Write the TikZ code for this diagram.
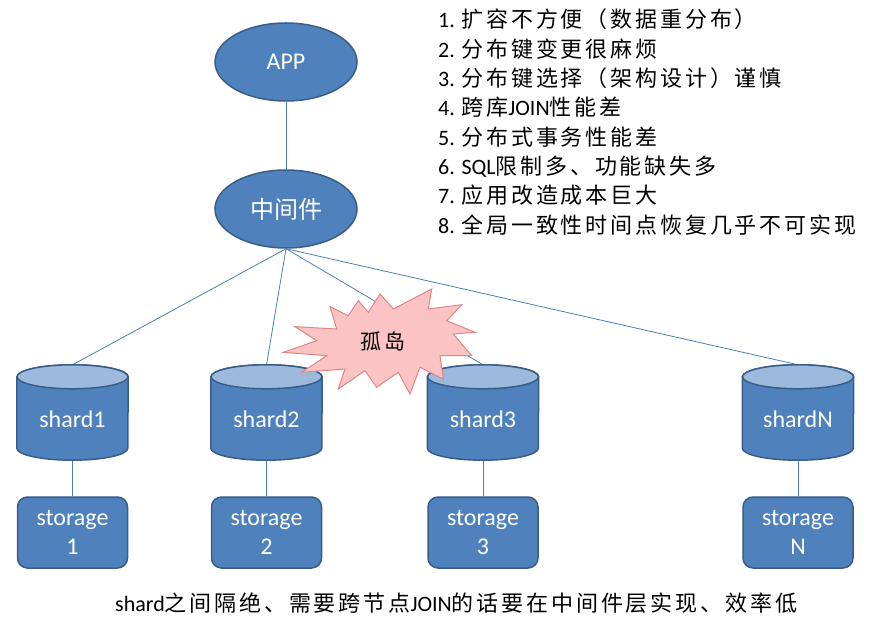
\documentclass[tikz,border=0pt]{standalone}
\usepackage{fontspec}
\setmainfont{Carlito}
\newfontfamily\cjk{Noto Sans CJK SC}
\newfontfamily\cjkls{Noto Sans CJK SC}[LetterSpace=13]
\usetikzlibrary{backgrounds,calc,shapes.geometric}
\definecolor{boxblue}{HTML}{4F81BD}
\definecolor{boxedge}{HTML}{385D8A}
\definecolor{toplight}{HTML}{9DB9DC}
\definecolor{linkblue}{HTML}{4A7EBB}
\definecolor{burstfill}{HTML}{FBC3C3}
\definecolor{burstedge}{HTML}{E08585}
\newcommand\zh[1]{{\cjkls #1}}
\tikzset{
  oval/.style={ellipse, fill=boxblue, draw=boxedge, line width=1.5pt, minimum width=142pt, minimum height=78pt, inner sep=0pt, text=white, font=\fontsize{24}{28}\selectfont},
  cylbox/.style={rectangle, draw=none, minimum width=111pt, minimum height=95pt, inner sep=0pt},
  cylbody/.style={fill=boxblue, draw=boxedge, line width=1.5pt},
  cyltop/.style={fill=toplight, draw=boxedge, line width=1.5pt},
  cyltext/.style={text=white, font=\fontsize{24}{28}\selectfont, inner sep=0pt},
  store/.style={rectangle, rounded corners=10pt, fill=boxblue, draw=boxedge, line width=1.5pt, minimum width=110pt, minimum height=71pt, inner sep=0pt, text=white, align=center, font=\fontsize{24}{29}\selectfont},
  link/.style={draw=linkblue, line width=0.8pt},
  listline/.style={anchor=base west, inner sep=0pt, font=\fontsize{22}{26}\selectfont},
}
\newcommand\mycyl[3]{%
  \node[cylbox] (#1) at (#2,209.5) {};
  \draw[cylbody] ($(#1.north west)+(0,-12)$) -- ($(#1.south west)+(0,12)$)
     arc[start angle=180,end angle=360,x radius=55.5pt,y radius=12pt]
     -- ($(#1.north east)+(0,-12)$)
     arc[start angle=0,end angle=180,x radius=55.5pt,y radius=12pt] -- cycle;
  \draw[cyltop] ($(#1.north)+(0,-12)$) ellipse[x radius=55.5pt,y radius=12pt];
  \node[cyltext] (#1t) at ($(#1)+(0,-6.5)$) {#3};
}
\begin{document}
\begin{tikzpicture}[x=1pt,y=1pt]
\useasboundingbox (0,0) rectangle (876,622);

\node[oval] (app) at (286,560) {APP};
\node[oval] (mid) at (286,413) {{\cjk 中间件}};

\mycyl{s1}{72.5}{shard1}
\mycyl{s2}{266.5}{shard2}
\mycyl{s3}{483}{shard3}
\mycyl{sN}{798}{shardN}

\node[store] (st1) at (72.5,89.5) {storage\\1};
\node[store] (st2) at (266.5,89.5) {storage\\2};
\node[store] (st3) at (483,89.5) {storage\\3};
\node[store] (stN) at (798,89.5) {storage\\N};

\begin{scope}[on background layer]
  \fill[white] (0,0) rectangle (876,622);
  \draw[link] (app.south) -- (mid.north);
  \draw[link] (mid.south) -- (s1.north);
  \draw[link] (mid.south) -- (s2.north);
  \draw[link] (mid.south) -- (s3.north);
  \draw[link] (mid.south) -- (sN.north);
  \draw[link] (s1.south) -- (st1.north);
  \draw[link] (s2.south) -- (st2.north);
  \draw[link] (s3.south) -- (st3.north);
  \draw[link] (sN.south) -- (stN.north);
\end{scope}

% explosion
\draw[fill=burstfill, draw=burstedge, line width=1pt, line join=miter]
  (330,315.3) -- (348.3,306.3) -- (358.3,321.3) -- (368.3,309.7) -- (380,328)
  -- (393.3,313) -- (431.7,333) -- (428.3,313) -- (461.7,317.3) -- (446.7,301.3)
  -- (475,289.7) -- (453.3,288) -- (471.7,266.3) -- (440,266.3) -- (443.3,243)
  -- (420,254.7) -- (410,228) -- (398.3,249.7) -- (376.7,234.7) -- (365,251.3)
  -- (338.3,233) -- (345,253) -- (301.7,249.7) -- (326.7,266.3) -- (283.3,269.7)
  -- (316.7,281.3) -- (295,295.3) -- (336.7,293) -- cycle;
\node[inner sep=0pt, font=\fontsize{21}{26}\selectfont] (iso) at (383,281) {\zh{孤岛}};

% list
\node[listline] (l1) at (438,594) {1. \zh{扩容不方便（数据重分布）}};
\node[listline] (l2) at (438,564.7) {2. \zh{分布键变更很麻烦}};
\node[listline] (l3) at (438,535.4) {3. \zh{分布键选择（架构设计）谨慎}};
\node[listline] (l4) at (438,506.1) {4. \zh{跨库}JOIN\zh{性能差}};
\node[listline] (l5) at (438,476.8) {5. \zh{分布式事务性能差}};
\node[listline] (l6) at (438,447.5) {6. SQL\zh{限制多、功能缺失多}};
\node[listline] (l7) at (438,418.2) {7. \zh{应用改造成本巨大}};
\node[listline] (l8) at (438,388.9) {8. \zh{全局一致性时间点恢复几乎不可实现}};

\node[listline] (cap) at (115,11) {shard\zh{之间隔绝、需要跨节点}JOIN\zh{的话要在中间件层实现、效率低}};
\end{tikzpicture}
\end{document}
